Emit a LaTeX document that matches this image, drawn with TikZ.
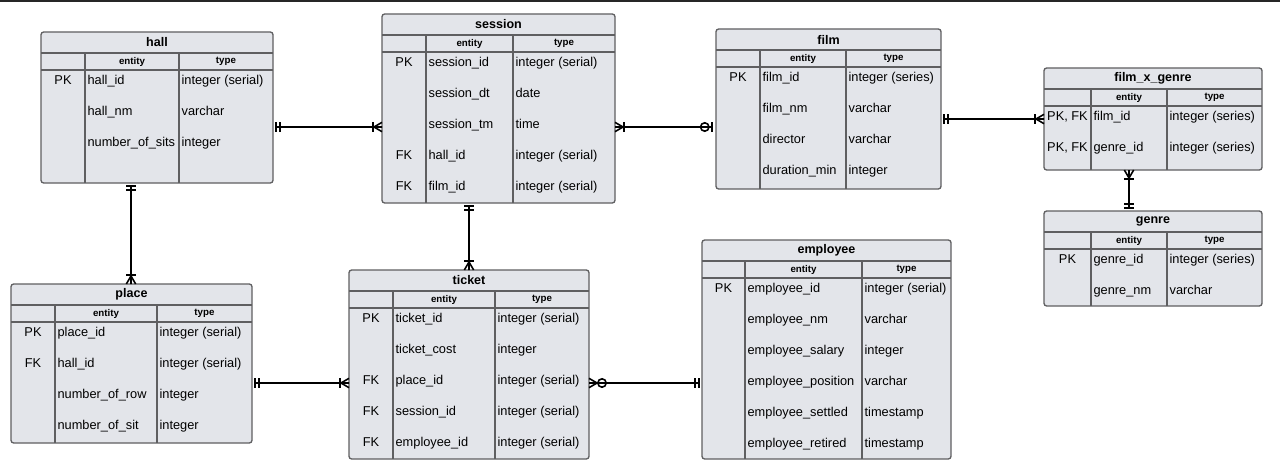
\documentclass[tikz,border=0pt]{standalone}
\usepackage{fontspec}
\setmainfont{Liberation Sans}
\usepackage{tikz}
\usetikzlibrary{arrows.meta,fit}
\definecolor{tablefill}{RGB}{227,229,234}
\definecolor{tableline}{RGB}{95,95,97}

% crow's foot tip: prongs open towards the table
\pgfdeclarearrow{
  name = Crow,
  parameters = {\the\pgfarrowlength,\the\pgfarrowwidth},
  setup code = {
    \pgfarrowssettipend{\pgfarrowlength}
    \pgfarrowssetlineend{\pgfarrowlength}
    \pgfarrowshullpoint{0pt}{0pt}
    \pgfarrowsupperhullpoint{\pgfarrowlength}{.5\pgfarrowwidth}
    \pgfarrowssavethe\pgfarrowlength
    \pgfarrowssavethe\pgfarrowwidth
  },
  drawing code = {
    \pgfpathmoveto{\pgfqpoint{\pgfarrowlength}{.5\pgfarrowwidth}}
    \pgfpathlineto{\pgfqpoint{0pt}{0pt}}
    \pgfpathlineto{\pgfqpoint{\pgfarrowlength}{-.5\pgfarrowwidth}}
    \pgfpathmoveto{\pgfqpoint{0pt}{0pt}}
    \pgfpathlineto{\pgfqpoint{\pgfarrowlength}{0pt}}
    \pgfusepathqstroke
  },
  defaults = {length=6pt, width=7pt}
}

% table: name, x1, y1, x2, y2, first divider, second divider, title, rows
\newcommand{\ertable}[9]{%
  \node[tbl, fit={(#2,#3) (#4,#5)}] (#1) {};
  \draw[tblline] (#2,#3+21) -- (#4,#3+21) (#2,#3+38) -- (#4,#3+38);
  \draw[tblline] (#6,#3+21) -- (#6,#5) (#7,#3+21) -- (#7,#5);
  \node[ttl] (#1-title) at ({(#2+#4)/2},#3+10.5) {#8};
  \node[hdr] (#1-hent) at ({(#6+#7)/2},#3+29.5) {entity};
  \node[hdr] (#1-htype) at ({(#7+#4)/2},#3+29.5) {type};
  \foreach \ky/\en/\ty [count=\i from 0] in {#9} {
    \node[cell] (#1-k\i) at ({(#2+#6)/2},#3+48+31*\i) {\ky};
    \node[cell, anchor=west] (#1-e\i) at (#6+1,#3+48+31*\i) {\en};
    \node[cell, anchor=west] (#1-t\i) at (#7+1,#3+48+31*\i) {\ty};
  }
}

\begin{document}
\begin{tikzpicture}[x=0.75pt, y=-0.75pt,
  tbl/.style={draw=tableline, fill=tablefill, line width=1pt, rounded corners=2pt, inner sep=0pt, outer sep=0pt},
  tblline/.style={draw=tableline, line width=1pt},
  ttl/.style={font=\fontsize{9.4}{11}\selectfont\bfseries, inner sep=0pt},
  hdr/.style={font=\fontsize{7.3}{9}\selectfont\bfseries, inner sep=0pt},
  cell/.style={font=\fontsize{9.6}{11}\selectfont, inner sep=1pt, text height=1.6ex, text depth=.45ex},
  rel/.style={line width=1.2pt, black},
  onlyone/.tip={Bar[width=7pt,sep=1.8pt]Bar[width=7pt,sep=1.8pt]},
  onemany/.tip={Bar[width=7pt,sep=0pt]Crow},
  zeromany/.tip={Circle[open,length=7.5pt,width=7.5pt,sep=0pt]Crow},
  zeroone/.tip={Circle[open,length=7.5pt,width=7.5pt,sep=1pt]Bar[width=7pt,sep=2.5pt]}]
  \useasboundingbox (0,0) rectangle (1280,474);
  \draw[line width=1.5pt, black!85] (0,0.8) -- (1280,0.8);

  \ertable{hall}{41}{32}{273}{183}{85}{179}{hall}{%
    PK/hall\_id/integer (serial), /hall\_nm/varchar, /number\_of\_sits/integer}
  \ertable{session}{382}{14}{615}{203}{426}{513}{session}{%
    PK/session\_id/integer (serial), /session\_dt/date, /session\_tm/time,
    FK/hall\_id/integer (serial), FK/film\_id/integer (serial)}
  \ertable{film}{716}{29}{941}{189}{760}{846}{film}{%
    PK/film\_id/integer (series), /film\_nm/varchar, /director/varchar, /duration\_min/integer}
  \ertable{filmgenre}{1044}{68}{1262}{170}{1091}{1167}{film\_x\_genre}{%
    {PK, FK}/film\_id/integer (series), {PK, FK}/genre\_id/integer (series)}
  \ertable{genre}{1044}{211}{1262}{306}{1091}{1167}{genre}{%
    PK/genre\_id/integer (series), /genre\_nm/varchar}
  \ertable{place}{11}{284}{252}{443}{55}{157}{place}{%
    PK/place\_id/integer (serial), FK/hall\_id/integer (serial),
    /number\_of\_row/integer, /number\_of\_sit/integer}
  \ertable{ticket}{349}{270}{589}{459}{393}{495}{ticket}{%
    PK/ticket\_id/integer (serial), /ticket\_cost/integer, FK/place\_id/integer (serial),
    FK/session\_id/integer (serial), FK/employee\_id/integer (serial)}
  \ertable{employee}{702}{240}{951}{459}{745}{862}{employee}{%
    PK/employee\_id/integer (serial), /employee\_nm/varchar, /employee\_salary/integer,
    /employee\_position/varchar, /employee\_settled/timestamp, /employee\_retired/timestamp}

  % relations
  \draw[rel, {onlyone}-{onemany}] (hall.east |- 0,127) -- (session.west |- 0,127);
  \draw[rel, {onemany}-{zeroone}] (session.east |- 0,127) -- (film.west |- 0,127);
  \draw[rel, {onlyone}-{onemany}] (film.east |- 0,119) -- (filmgenre.west |- 0,119);
  \draw[rel, {onlyone}-{onemany}] (genre.north -| 1129,0) -- (filmgenre.south -| 1129,0);
  \draw[rel, {onlyone}-{onemany}] (hall.south -| 131,0) -- (place.north -| 131,0);
  \draw[rel, {onlyone}-{onemany}] (session.south -| 469,0) -- (ticket.north -| 469,0);
  \draw[rel, {onlyone}-{onemany}] (place.east |- 0,383) -- (ticket.west |- 0,383);
  \draw[rel, {onlyone}-{zeromany}] (employee.west |- 0,383) -- (ticket.east |- 0,383);
\end{tikzpicture}
\end{document}
